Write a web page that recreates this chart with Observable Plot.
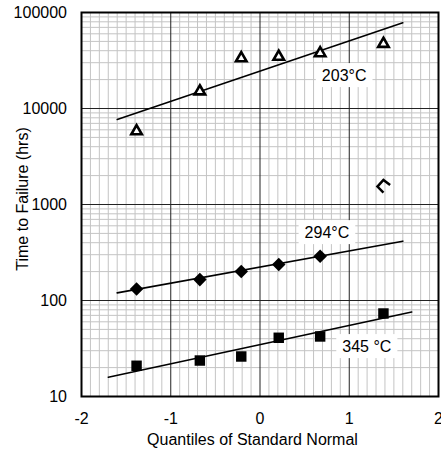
<!DOCTYPE html>
<html><head><meta charset="utf-8">
<script src="https://cdn.jsdelivr.net/npm/d3@7"></script>
<script src="https://cdn.jsdelivr.net/npm/@observablehq/plot@0.6"></script>
<style>html,body{margin:0;padding:0;background:#fff;overflow:hidden}</style>
</head><body><div id="chart"></div>
<script>
// ---- data ----
const quantiles = [-1.383, -0.674, -0.210, 0.210, 0.674, 1.383];
const t203 = [5800, 15100, 33400, 34600, 37700, 47200];
const t294 = [132, 165, 200, 237, 289];
const t345 = [20.9, 23.7, 26.1, 40.9, 42.2, 73.2];
const outlierQ = [1.383];
const outlierT = [1550];
// fitted lines (end points)
const fitQ203 = [-1.6, 1.6],  fitT203 = [7700, 78000];
const fitQ294 = [-1.6, 1.6],  fitT294 = [120, 415];
const fitQ345 = [-1.7, 1.7],  fitT345 = [15.9, 76];
// labels
const labelText = ["203°C", "294°C", "345 °C"];
const labelQ = [0.943, 0.75, 1.197];
const labelT = [22080, 511, 33.2];
// ticks
const xTicks = [-2, -1, 0, 1, 2];
const yTicks = [10, 100, 1000, 10000, 100000];
const xMajorGrid = [-1, 0, 1];
const yMajorGrid = [100, 1000, 10000];
const xMinorGrid = d3.range(-19, 20).filter(i => i % 10 !== 0).map(i => i / 10);
const yMinorGrid = [10, 100, 1000, 10000].flatMap(d => [2,3,4,5,6,7,8,9].map(m => m * d));

const pts = (qs, ts) => ts.map((t, i) => ({q: qs[i], t}));
const d203 = pts(quantiles, t203);
const d294 = pts(quantiles, t294);
const d345 = pts(quantiles, t345);
const dOut = pts(outlierQ, outlierT);
const lines = [
  ...pts(fitQ203, fitT203).map(d => ({...d, s: "203"})),
  ...pts(fitQ294, fitT294).map(d => ({...d, s: "294"})),
  ...pts(fitQ345, fitT345).map(d => ({...d, s: "345"}))
];
const labels = labelText.map((text, i) => ({text, q: labelQ[i], t: labelT[i]}));

const chevron = {
  draw(ctx, size) {
    const r = Math.sqrt(size / Math.PI);
    ctx.moveTo(1.06 * r, -0.2 * r);
    ctx.lineTo(0, -r);
    ctx.lineTo(-0.95 * r, 0.05 * r);
    ctx.lineTo(0, r);
  }
};

const font = "Liberation Sans, Arial, Helvetica, sans-serif";
const chart = Plot.plot({
  width: 441, height: 450,
  marginLeft: 81, marginRight: 3, marginTop: 12, marginBottom: 54,
  style: {fontFamily: font, fontSize: "16px", background: "white", color: "black"},
  x: {domain: [-2, 2]},
  y: {type: "log", domain: [10, 100000]},
  marks: [
    Plot.gridX(xMinorGrid, {stroke: "#c4c4c4", strokeOpacity: 1, strokeWidth: 1}),
    Plot.gridY(yMinorGrid, {stroke: "#c4c4c4", strokeOpacity: 1, strokeWidth: 1}),
    Plot.gridX(xMajorGrid, {stroke: "#222", strokeOpacity: 1, strokeWidth: 1}),
    Plot.gridY(yMajorGrid, {stroke: "#222", strokeOpacity: 1, strokeWidth: 1}),
    Plot.frame({stroke: "black", strokeWidth: 2}),
    Plot.line(lines, {x: "q", y: "t", z: "s", stroke: "black", strokeWidth: 1.6}),
    Plot.dot(d203, {x: "q", y: "t", symbol: "triangle", r: 3.9, stroke: "black", strokeWidth: 2.6, fill: "white"}),
    Plot.dot(dOut, {x: "q", y: "t", symbol: chevron, r: 6.3, stroke: "black", strokeWidth: 2.5, fill: "none"}),
    Plot.dot(d294, {x: "q", y: "t", symbol: "diamond2", r: 6.1, fill: "black", stroke: "none"}),
    Plot.dot(d345, {x: "q", y: "t", symbol: "square", r: 5.9, fill: "black", stroke: "none"}),
    Plot.text(labels, {x: "q", y: "t", text: "text", fontSize: 16, fill: "black", textAnchor: "middle", lineAnchor: "middle"}),
    Plot.axisX({ticks: xTicks, tickSize: 0, tickPadding: 16, tickFormat: d => String(d), label: null, fontSize: 16}),
    Plot.axisY({ticks: yTicks, tickSize: 0, tickPadding: 14.5, tickFormat: d => String(d), label: null, fontSize: 16}),
    Plot.text(["Quantiles of Standard Normal"], {text: d => d, frameAnchor: "bottom", dy: 43.4, dx: -7.5, fontSize: 16, textAnchor: "middle", lineAnchor: "middle"}),
    Plot.text(["Time to Failure (hrs)"], {text: d => d, frameAnchor: "left", rotate: -90, dx: -59, dy: -5.5, fontSize: 16, textAnchor: "middle", lineAnchor: "middle"})
  ]
});
document.getElementById("chart").appendChild(chart);

// white boxes behind the temperature labels
const svg = chart.tagName.toLowerCase() === "svg" ? chart : chart.querySelector("svg");
svg.querySelectorAll("text").forEach(t => {
  if (!labelText.includes(t.textContent)) return;
  const b = t.getBBox();
  const rect = document.createElementNS("http://www.w3.org/2000/svg", "rect");
  rect.setAttribute("x", b.x - 6);
  rect.setAttribute("y", b.y - 3.5);
  rect.setAttribute("width", b.width + 12);
  rect.setAttribute("height", b.height + 7);
  rect.setAttribute("fill", "white");
  const tr = t.getAttribute("transform");
  if (tr) rect.setAttribute("transform", tr);
  t.parentNode.insertBefore(rect, t);
});
</script>
</body></html>
